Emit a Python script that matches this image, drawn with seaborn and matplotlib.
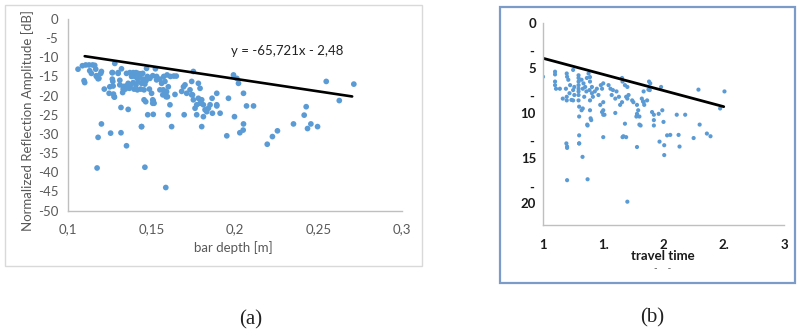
import matplotlib
matplotlib.use("Agg")
import matplotlib.pyplot as plt
import matplotlib.transforms as mtransforms
from matplotlib.patches import Rectangle
import seaborn as sns
import pandas as pd

# ---------------- data : panel (a) ----------------
depth_a = [0.106, 0.1086, 0.1096, 0.110, 0.1106, 0.1126, 0.1147, 0.116, 0.113, 0.114,
           0.1166, 0.117, 0.1196, 0.118, 0.1217, 0.1246, 0.1266, 0.1265, 0.1276, 0.127,
           0.128, 0.130, 0.132, 0.131, 0.131, 0.133, 0.1327, 0.1317, 0.136, 0.120,
           0.118, 0.1255, 0.1317, 0.135, 0.1174, 0.146, 0.144, 0.1477, 0.151,
           0.135, 0.137, 0.139, 0.1407, 0.142, 0.1435, 0.1447, 0.138, 0.140, 0.1415,
           0.143, 0.145, 0.1467, 0.136, 0.1375, 0.139, 0.1407, 0.142, 0.144, 0.146,
           0.1347, 0.1367, 0.1395, 0.1415, 0.1435, 0.1455, 0.147, 0.1475, 0.149, 0.1507,
           0.153, 0.155, 0.1487, 0.150, 0.1507, 0.1515,
           0.1573, 0.1593, 0.1613, 0.1633, 0.1648, 0.156, 0.158, 0.160, 0.157, 0.159,
           0.1567, 0.1595, 0.164, 0.161, 0.160, 0.162,
           0.1691, 0.170, 0.168, 0.171, 0.173, 0.174, 0.1695, 0.175,
           0.174, 0.178, 0.179, 0.175, 0.178, 0.180, 0.177, 0.179, 0.181, 0.176, 0.182,
           0.177, 0.180, 0.183, 0.184, 0.185, 0.1862, 0.189, 0.189, 0.191, 0.196, 0.195,
           0.199, 0.201, 0.202, 0.205, 0.2068, 0.211, 0.1996, 0.2028, 0.2048, 0.205,
           0.2192, 0.2223, 0.2253, 0.2349, 0.2413, 0.2425, 0.2433, 0.2453, 0.2493,
           0.2545, 0.2623, 0.271,
           0.1507, 0.151, 0.1523, 0.153, 0.155, 0.1577, 0.1587, 0.1455, 0.1465, 0.144,
           0.181, 0.1864, 0.189, 0.1745, 0.1264, 0.1268, 0.1272, 0.1278, 0.130, 0.1331,
           0.1343, 0.125, 0.117, 0.1185, 0.120, 0.1585]
ampl_a = [-13.1, -12.2, -16.1, -16.6, -12.0, -12.0, -12.0, -12.1, -13.5, -14.2,
          -13.1, -14.8, -14.2, -15.6, -18.3, -19.4, -14.0, -15.7, -20.3, -17.5,
          -11.6, -14.2, -13.0, -16.0, -17.2, -18.3, -19.2, -23.1, -23.6, -27.4,
          -30.9, -29.8, -29.7, -33.1, -38.9, -38.7, -28.1, -25.0, -24.9,
          -14.2, -14.0, -14.0, -14.0, -14.2, -14.3, -14.2, -15.0, -15.0, -15.5,
          -15.2, -15.7, -16.1, -16.8, -17.2, -16.6, -17.2, -16.3, -16.8, -17.0,
          -17.5, -18.1, -18.3, -18.5, -18.3, -18.5, -12.9, -15.0, -15.5, -14.8,
          -15.0, -15.7, -18.3, -19.4, -21.1, -22.0,
          -15.0, -14.6, -15.0, -14.9, -14.9, -16.8, -16.3, -17.7, -18.5, -19.0,
          -19.8, -20.3, -19.7, -22.4, -25.0, -28.1,
          -17.7, -17.2, -18.9, -19.4, -18.5, -19.8, -25.0, -13.7,
          -16.3, -16.8, -18.1, -21.1, -20.7, -21.1, -22.4, -22.0, -22.4, -23.3, -23.7,
          -25.0, -28.1, -24.2, -23.3, -22.4, -20.7, -19.4, -22.4, -24.6, -20.7, -30.5,
          -14.6, -15.5, -16.8, -19.4, -22.7, -22.7, -25.5, -29.7, -29.0, -27.4,
          -32.7, -30.7, -29.2, -27.4, -25.1, -22.9, -28.6, -27.4, -28.1,
          -16.3, -21.3, -17.0,
          -22.0, -21.4, -13.0, -15.9, -18.5, -19.4, -20.3, -21.1, -21.6, -28.1,
          -25.5, -24.6, -22.7, -19.8, -14.0, -16.3, -19.6, -20.4, -14.0, -17.6,
          -18.3, -17.7, -15.0, -15.5, -13.7, -44.0]
fit_a_slope = -65.721
fit_a_intercept = -2.48
fit_a_x = [0.11, 0.27]
eq_text_a = "y = -65,721x - 2,48"
xticks_a = [0.1, 0.15, 0.2, 0.25, 0.3]
xlabels_a = ["0,1", "0,15", "0,2", "0,25", "0,3"]
yticks_a = [0, -5, -10, -15, -20, -25, -30, -35, -40, -45, -50]
ylabels_a = ["0", "-5", "-10", "-15", "-20", "-25", "-30", "-35", "-40", "-45", "-50"]

# ---------------- data : panel (b) ----------------
time_b = [1.0, 1.1, 1.1, 1.1, 1.1, 1.108, 1.14, 1.164, 1.197, 1.2, 1.21, 1.225, 1.19, 1.22,
          1.197, 1.197, 1.25, 1.25, 1.26, 1.26, 1.25,
          1.295, 1.295, 1.295, 1.295, 1.295, 1.295, 1.295, 1.295,
          1.3, 1.3, 1.3, 1.3, 1.32, 1.336, 1.35, 1.33, 1.36, 1.342,
          1.364, 1.378, 1.39, 1.39, 1.406, 1.386, 1.406, 1.414, 1.39,
          1.33, 1.32, 1.39, 1.395, 1.37,
          1.43, 1.447, 1.46, 1.48, 1.49, 1.5, 1.475, 1.5, 1.49, 1.51, 1.5,
          1.544, 1.56, 1.57, 1.58, 1.6, 1.61, 1.63, 1.656, 1.66,
          1.64, 1.656, 1.68, 1.69, 1.66, 1.7, 1.71, 1.7,
          1.74, 1.75, 1.78, 1.79, 1.78, 1.8, 1.775, 1.81, 1.82, 1.835, 1.835, 1.864,
          1.88, 1.886, 1.905, 1.92, 1.92, 1.92, 1.96, 2.0, 1.99,
          1.194, 1.2, 1.2, 1.2, 1.3, 1.328, 1.367, 1.37, 1.5, 1.5,
          1.667, 1.7, 1.78, 1.8, 1.89, 1.967, 2.006, 2.006, 2.056, 2.11, 2.125, 2.133,
          2.18, 2.25, 2.29, 2.3, 2.36, 2.39, 2.47, 2.506, 1.98, 1.875,
          1.236, 1.4, 1.6, 1.69, 1.68, 1.83, 1.84, 2.03]
ampl_b = [-5.96, -5.4, -5.7, -6.5, -6.9, -7.3, -7.3, -8.4, -5.6, -5.96, -6.3, -6.9, -7.3, -7.8,
          -8.2, -8.6, -5.2, -7.45, -7.1, -8.0, -8.6,
          -5.8, -6.1, -6.5, -6.9, -7.3, -7.6, -8.0, -8.6,
          -9.3, -10.4, -12.5, -13.4, -6.3, -6.7, -7.1, -7.3, -7.6, -8.2,
          -6.1, -5.6, -6.0, -6.5, -7.1, -7.45, -7.8, -8.2, -8.6,
          -9.5, -9.7, -9.7, -10.6, -11.4,
          -7.6, -7.3, -8.0, -6.9, -7.3, -6.7, -9.1, -8.8, -9.9, -10.2, -12.7,
          -6.9, -7.3, -8.0, -7.45, -8.4, -7.6, -8.2, -6.1, -6.5,
          -9.1, -8.8, -11.2, -12.7, -12.7, -7.1, -8.0, -8.4,
          -8.6, -8.8, -9.1, -9.7, -10.1, -10.4, -10.4, -11.4, -8.4, -7.6, -8.8, -8.6,
          -6.5, -7.45, -9.9, -10.2, -10.8, -11.4, -10.1, -11.0, -9.7,
          -13.4, -13.75, -13.9, -17.5, -13.4, -14.9, -11.3, -17.4, -9.7, -10.2,
          -12.6, -19.9, -13.8, -11.3, -6.7, -13.2, -13.6, -14.7, -12.45, -10.2, -12.45, -13.75,
          -10.2, -12.8, -7.4, -11.3, -12.3, -12.6, -9.5, -7.6, -7.1, -7.4,
          -8.55, -10.8, -10.0, -8.2, -6.9, -8.7, -9.1, -12.5]
fit_b_x = [1.0, 2.5]
fit_b_y = [-3.9, -9.3]
xticks_b = [1, 1.5, 2, 2.5, 3]
xlabels_b = ["1", "1.", "2", "2.", "3"]
yticks_b = [0, -5, -10, -15, -20]
ylabels_b = ["0", "5", "10", "15", "20"]
ydash_b = [-3.2, -8.2, -13.2, -18.4]

df_a = pd.DataFrame({"depth": depth_a, "ampl": ampl_a})
df_b = pd.DataFrame({"time": time_b, "ampl": ampl_b})
fit_a = pd.DataFrame({"x": fit_a_x,
                      "y": [fit_a_slope * v + fit_a_intercept for v in fit_a_x]})
fit_b = pd.DataFrame({"x": fit_b_x, "y": fit_b_y})

# ---------------- style ----------------
sns.set_style("white")
plt.rcParams["font.family"] = ["Lato", "DejaVu Sans"]

W, H = 800, 333
fig = plt.figure(figsize=(8, 3.33), dpi=100)
fig.patch.set_facecolor("white")


def px_axes(left, top, right, bottom):
    return fig.add_axes([left / W, (H - bottom) / H, (right - left) / W, (bottom - top) / H])


# frames
fig.patches.append(Rectangle((5 / W, (H - 266) / H), (422 - 5) / W, (266 - 5) / H,
                             transform=fig.transFigure, fill=False,
                             edgecolor="#d9d9d9", linewidth=1.0))
fig.patches.append(Rectangle((500 / W, (H - 283) / H), (795 - 500) / W, (283 - 7) / H,
                             transform=fig.transFigure, fill=False,
                             edgecolor="#7b9cc9", linewidth=1.6))

blue = "#5b9bd5"
grey_spine = "#bfbfbf"
fs = 9.5

# ---------------- panel (a) ----------------
ax = px_axes(68, 19, 402.3, 210.5)
sns.scatterplot(data=df_a, x="depth", y="ampl", ax=ax, color=blue, s=17,
                edgecolor="none", linewidth=0)
sns.lineplot(data=fit_a, x="x", y="y", ax=ax, color="black", linewidth=1.9)
ax.set_xlim(0.1, 0.3)
ax.set_ylim(-50, 0)
ax.set_xticks(xticks_a, xlabels_a)
ax.set_yticks(yticks_a, ylabels_a)
for s in ["top", "right"]:
    ax.spines[s].set_visible(False)
for s in ["left", "bottom"]:
    ax.spines[s].set_color(grey_spine)
    ax.spines[s].set_linewidth(1.0)
ax.tick_params(axis="y", direction="out", length=4, color=grey_spine, labelsize=fs,
               labelcolor="#595959", pad=3)
ax.tick_params(axis="x", direction="in", length=4, color=grey_spine, labelsize=fs,
               labelcolor="#595959", pad=9)
ax.set_xlabel("bar depth [m]", fontsize=fs, color="#595959")
ax.set_ylabel("Normalized Reflection Amplitude [dB]", fontsize=fs, color="#595959")
ax.xaxis.set_label_coords(0.494, -0.16)
ax.yaxis.set_label_coords(-0.103, 0.47)
ax.text(0.487, 0.835, eq_text_a, transform=ax.transAxes, fontsize=fs, color="#222222",
        ha="left", va="center")

# ---------------- panel (b) ----------------
bx = px_axes(543, 23.3, 784, 225)
sns.scatterplot(data=df_b, x="time", y="ampl", ax=bx, color=blue, s=9,
                edgecolor="none", linewidth=0)
sns.lineplot(data=fit_b, x="x", y="y", ax=bx, color="black", linewidth=2.0)
bx.set_xlim(1, 3)
bx.set_ylim(-22.5, 0)
bx.set_xticks(xticks_b, xlabels_b)
bx.set_yticks(yticks_b, ylabels_b)
for s in ["top", "right"]:
    bx.spines[s].set_visible(False)
for s in ["left", "bottom"]:
    bx.spines[s].set_color(grey_spine)
    bx.spines[s].set_linewidth(1.0)
bx.tick_params(axis="y", direction="in", length=3, color=grey_spine, labelsize=fs,
               labelcolor="#1a1a1a", pad=5)
bx.tick_params(axis="x", direction="in", length=4, color=grey_spine, labelsize=fs,
               labelcolor="#1a1a1a", pad=10)
for lab in bx.get_xticklabels() + bx.get_yticklabels():
    lab.set_fontweight("bold")
trans = mtransforms.blended_transform_factory(bx.transAxes, bx.transData)
for yv in ydash_b:
    bx.text(-0.047, yv, "-", transform=trans, fontsize=fs, color="#1a1a1a",
            ha="center", va="center", fontweight="bold")
bx.set_xlabel("travel time", fontsize=fs, color="#1a1a1a", fontweight="bold")
bx.set_ylabel("")
bx.xaxis.set_label_coords(0.498, -0.125)
bx.text(0.498, -0.215, "-    -", transform=bx.transAxes, fontsize=7, color="#555555",
        ha="center", va="center")

# ---------------- panel captions ----------------
fig.text(251 / W, (H - 320) / H, "(a)", fontsize=15, family="Liberation Serif",
         ha="center", va="center", color="#222222")
fig.text(652 / W, (H - 318) / H, "(b)", fontsize=15, family="Liberation Serif",
         ha="center", va="center", color="#222222")

fig.savefig("out.png", dpi=100, facecolor="white")
